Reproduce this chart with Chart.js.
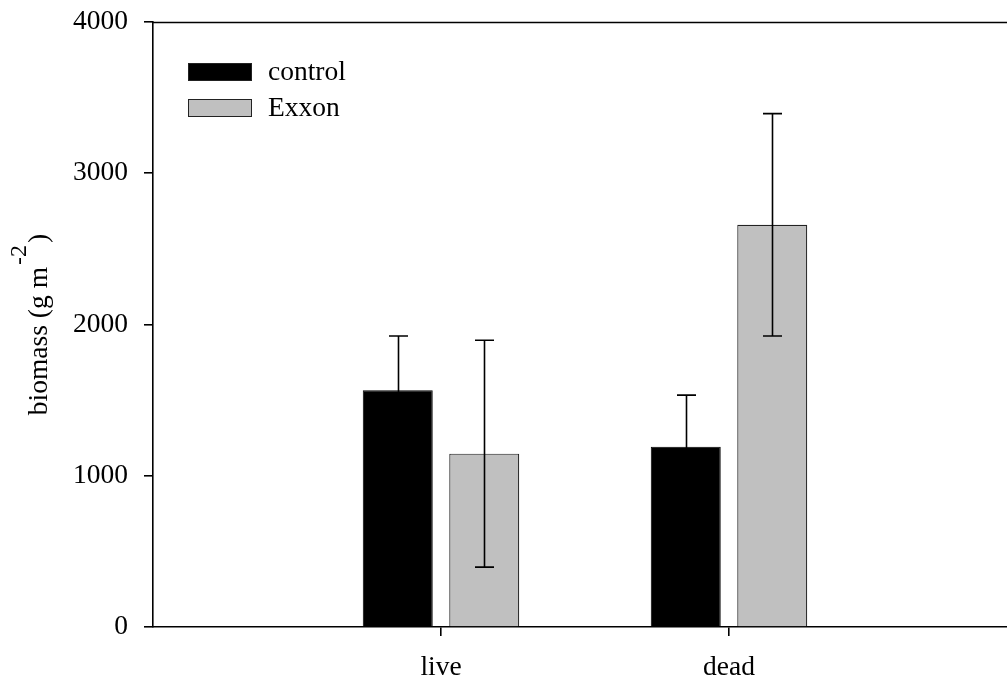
<!DOCTYPE html>
<html>
<head>
<meta charset="utf-8">
<script src="https://cdn.jsdelivr.net/npm/chart.js@4/dist/chart.umd.min.js"></script>
<style>
  html, body { margin: 0; padding: 0; background: #fff; overflow: hidden; width: 1007px; height: 684px; }
  canvas { display: block; }
</style>
</head>
<body>
<canvas id="c" width="1040" height="684"></canvas>
<script>
// ---- data ----
const categories = ['live', 'dead'];
const seriesNames = ['control', 'Exxon'];
const controlMeans = [1566, 1191];
const controlErrors = [358, 342];
const exxonMeans = [1146, 2659];
const exxonErrors = [750, 735];
const yTicks = [0, 1000, 2000, 3000, 4000];
const yTitleMain = 'biomass (g m';
const yTitleSup = '-2';
const yTitleEnd = ')';

// padded category slots (empty slots at both ends)
const labels = [''].concat(categories, ['']);
const pad = arr => [null].concat(arr, [null]);

const FONT = '"Liberation Serif", "Times New Roman", serif';
const FS = 27.5;

const errorBarPlugin = {
  id: 'errorBars',
  afterDatasetsDraw(chart) {
    const ctx = chart.ctx;
    const y = chart.scales.y;
    chart.data.datasets.forEach((ds, di) => {
      const meta = chart.getDatasetMeta(di);
      meta.data.forEach((el, i) => {
        const v = ds.data[i];
        const e = ds.errors[i];
        if (v == null || e == null) return;
        const x = Math.round(el.x) + 0.5;
        const yt = y.getPixelForValue(v + e);
        const yb = y.getPixelForValue(v - e);
        ctx.save();
        ctx.strokeStyle = '#000';
        ctx.lineWidth = 1.6;
        ctx.beginPath();
        ctx.moveTo(x, yt); ctx.lineTo(x, yb);
        ctx.moveTo(x - 9.5, yt); ctx.lineTo(x + 9.5, yt);
        ctx.moveTo(x - 9.5, yb); ctx.lineTo(x + 9.5, yb);
        ctx.stroke();
        ctx.restore();
      });
    });
  }
};

const framePlugin = {
  id: 'frame',
  afterDraw(chart) {
    const ctx = chart.ctx;
    const a = chart.chartArea;
    ctx.save();
    ctx.strokeStyle = '#000';
    ctx.lineWidth = 1.6;
    ctx.beginPath();
    ctx.moveTo(a.left - 0.8, Math.round(a.top) + 0.5);
    ctx.lineTo(a.right, Math.round(a.top) + 0.5);
    ctx.stroke();

    // legend
    ctx.font = FS + 'px ' + FONT;
    ctx.textBaseline = 'middle';
    ctx.textAlign = 'left';
    chart.data.datasets.forEach((ds, i) => {
      const bx = 188, by = 63 + i * 36, bw = 64, bh = 18;
      ctx.fillStyle = ds.backgroundColor;
      ctx.fillRect(bx, by, bw, bh);
      ctx.lineWidth = 1;
      ctx.strokeStyle = '#222';
      ctx.strokeRect(bx + 0.5, by + 0.5, bw - 1, bh - 1);
      ctx.fillStyle = '#000';
      ctx.fillText(ds.label, 268, by + bh / 2 + 1);
    });

    // y-axis title with superscript
    const cy = (a.top + a.bottom) / 2;
    ctx.translate(46.5, cy);
    ctx.rotate(-Math.PI / 2);
    ctx.textBaseline = 'alphabetic';
    const mainFont = FS + 'px ' + FONT;
    const supFont = '24px ' + FONT;
    const gap = 2;
    ctx.font = mainFont;
    const w1 = ctx.measureText(yTitleMain).width;
    const w3 = ctx.measureText(yTitleEnd).width;
    ctx.font = supFont;
    const w2 = ctx.measureText(yTitleSup).width + gap * 2;
    const total = w1 + w2 + w3;
    let x = -total / 2;
    ctx.fillStyle = '#000';
    ctx.font = mainFont;
    ctx.fillText(yTitleMain, x, 0);
    x += w1;
    ctx.font = supFont;
    ctx.fillText(yTitleSup, x + gap, -21);
    x += w2;
    ctx.font = mainFont;
    ctx.fillText(yTitleEnd, x, 0);
    ctx.restore();
  }
};

new Chart(document.getElementById('c'), {
  type: 'bar',
  data: {
    labels: labels,
    datasets: [
      {
        label: seriesNames[0],
        data: pad(controlMeans),
        errors: pad(controlErrors),
        backgroundColor: '#000000',
        borderColor: '#000000',
        borderWidth: 1
      },
      {
        label: seriesNames[1],
        data: pad(exxonMeans),
        errors: pad(exxonErrors),
        backgroundColor: '#c0c0c0',
        borderColor: '#222222',
        borderWidth: 1.2
      }
    ]
  },
  options: {
    responsive: false,
    animation: false,
    events: [],
    categoryPercentage: 0.6007,
    barPercentage: 0.809,
    layout: { padding: { left: 0, right: 23, top: 22, bottom: 0 } },
    plugins: {
      legend: { display: false },
      tooltip: { enabled: false },
      title: { display: false }
    },
    scales: {
      x: {
        offset: false,
        grid: {
          offset: false,
          drawOnChartArea: false,
          drawTicks: true,
          tickLength: 9,
          color: '#000',
          lineWidth: 1.6
        },
        border: { display: true, color: '#000', width: 1.6 },
        afterBuildTicks(scale) {
          scale.ticks = scale.ticks.filter(t => labels[t.value] !== '');
        },
        afterFit(scale) {
          scale.height = 57;
          scale.paddingLeft = 0;
          scale.paddingRight = 0;
        },
        ticks: {
          autoSkip: false,
          maxRotation: 0,
          padding: 15,
          color: '#000',
          font: { family: FONT, size: FS }
        }
      },
      y: {
        min: yTicks[0],
        max: yTicks[yTicks.length - 1],
        afterBuildTicks(scale) {
          scale.ticks = yTicks.map(v => ({ value: v }));
        },
        afterFit(scale) {
          scale.width = 153;
          scale.paddingTop = 0;
          scale.paddingBottom = 0;
        },
        grid: {
          drawOnChartArea: false,
          drawTicks: true,
          tickLength: 9,
          color: '#000',
          lineWidth: 1.6
        },
        border: { display: true, color: '#000', width: 1.6 },
        ticks: {
          padding: 16,
          color: '#000',
          font: { family: FONT, size: FS },
          callback: v => String(v)
        }
      }
    }
  },
  plugins: [errorBarPlugin, framePlugin]
});
</script>
</body>
</html>
